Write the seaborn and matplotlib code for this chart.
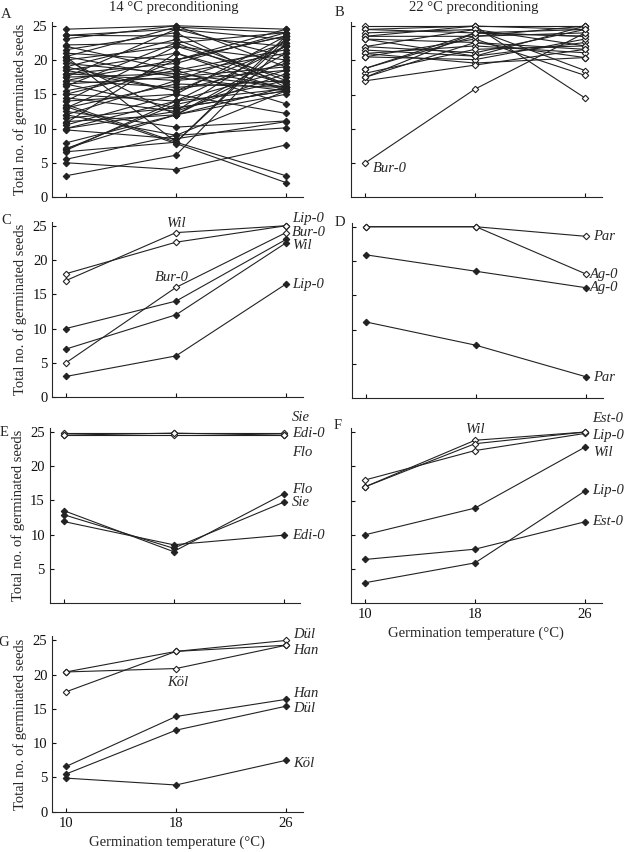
import matplotlib
matplotlib.use("Agg")
import matplotlib.pyplot as plt
import seaborn as sns
import pandas as pd

temps = [10, 18, 26]

# A: 14 °C preconditioning, all accessions (values at 10, 18, 26 °C)
a_10 = [24.5, 23.6, 23.6, 23.1, 22.2, 21.5, 21.0, 20.5, 20.5, 20.0, 20.0, 19.5, 19.0, 19.0,
        18.5, 18.0, 18.0, 17.5, 17.5, 17.0, 17.0, 16.5, 16.5, 16.2, 15.5, 15.0, 15.0, 14.5,
        14.0, 13.5, 13.2, 13.0, 13.0, 12.5, 12.0, 12.0, 11.5, 11.0, 10.8, 10.5, 10.0, 10.0,
        9.8, 7.9, 7.1, 7.0, 6.8, 6.6, 5.5, 5.0, 3.1, 20.5, 22.0, 18.5, 14.0]
a_18 = [25.0, 24.5, 23.5, 25.0, 22.5, 24.0, 20.0, 8.0, 17.5, 22.0, 12.0, 18.0, 23.0, 15.5,
        21.0, 17.0, 19.5, 18.0, 24.5, 16.0, 20.0, 13.0, 17.5, 22.5, 18.5, 14.0, 19.0, 12.5,
        15.0, 8.0, 7.8, 20.0, 16.5, 10.2, 17.0, 9.0, 13.0, 12.0, 21.0, 15.0, 14.0, 12.5,
        8.5, 12.0, 12.0, 13.5, 14.0, 8.0, 9.0, 4.0, 6.1, 24.8, 18.5, 15.5, 22.0]
a_26 = [24.5, 23.0, 22.0, 19.0, 24.0, 16.0, 23.5, 23.0, 15.5, 20.0, 16.0, 21.0, 17.0, 22.0,
        15.5, 18.5, 24.0, 16.0, 20.5, 17.0, 23.5, 15.5, 19.0, 16.5, 13.6, 22.0, 16.0, 18.0,
        12.2, 3.1, 2.1, 24.5, 16.0, 11.1, 22.5, 10.1, 15.5, 20.0, 16.5, 23.5, 18.5, 23.0,
        11.0, 15.0, 21.0, 17.0, 15.8, 23.5, 15.5, 7.6, 22.5, 24.0, 21.5, 19.5, 17.5]

# B: 22 °C preconditioning, all accessions
b_10 = [25.0, 24.5, 24.5, 24.0, 23.5, 23.5, 23.1, 22.0, 22.0, 21.5, 21.0, 21.0, 20.5, 20.5,
        18.8, 18.1, 17.5, 17.0, 18.8, 5.0, 23.1, 17.5]
b_18 = [25.0, 25.0, 24.0, 24.5, 25.0, 23.5, 22.6, 21.1, 24.5, 20.6, 22.1, 19.6, 20.1, 23.1,
        24.0, 21.6, 22.6, 19.3, 23.5, 15.8, 20.6, 24.0]
b_26 = [25.0, 24.5, 23.5, 22.1, 14.5, 24.0, 21.6, 24.5, 18.5, 22.6, 21.1, 20.4, 23.1, 17.8,
        23.5, 22.1, 20.4, 21.6, 25.0, 24.0, 25.0, 24.5]

# C-G: selected accessions, open = 22 °C, filled = 14 °C preconditioning
c_open = [[17, 24, 25], [18, 22.6, 25], [5, 16, 24]]
c_filled = [[10, 14, 23], [7, 12, 22.5], [3, 6, 16.5]]
d_open = [[25, 25, 23.6], [25, 25, 18.1]]
d_filled = [[20.9, 18.5, 16.1], [11.1, 7.7, 3.1]]
e_open = [[24.8, 24.8, 24.8], [24.5, 24.5, 24.5], [24.5, 24.8, 24.5]]
e_filled = [[13.5, 7.5, 15.9], [12.9, 8.0, 14.7], [11.9, 8.5, 9.9]]
f_open = [[17, 23.8, 25], [18, 22.3, 24.8], [17, 23.3, 25]]
f_filled = [[10, 13.9, 22.8], [3, 5.9, 16.4], [6.4, 7.9, 11.9]]
g_open = [[17.5, 23.4, 25], [20.4, 23.4, 24.3], [20.4, 20.9, 24.3]]
g_filled = [[6.6, 13.9, 16.4], [5.5, 11.9, 15.4], [4.9, 3.9, 7.5]]

# accession labels (text, x, y, ha)
b_labels = [("Bur-0", 10.6, 4.2, "left")]
c_labels = [("Wil", 18, 25.4, "center"), ("Bur-0", 17.7, 17.4, "center"),
            ("Lip-0", 26.45, 26.0, "left"), ("Bur-0", 26.45, 24.0, "left"),
            ("Wil", 26.45, 22.1, "left"), ("Lip-0", 26.45, 16.4, "left")]
d_labels = [("Par", 26.5, 23.6, "left"), ("Ag-0", 26.3, 18.1, "left"),
            ("Ag-0", 26.3, 16.1, "left"), ("Par", 26.5, 3.0, "left")]
e_labels = [("Sie", 26.6, 27.1, "left"), ("Edi-0", 26.6, 24.7, "left"),
            ("Flo", 26.6, 22.0, "left"), ("Flo", 26.6, 16.6, "left"),
            ("Sie", 26.6, 14.6, "left"), ("Edi-0", 26.6, 9.9, "left")]
f_labels = [("Wil", 18, 25.4, "center"), ("Est-0", 26.55, 27.0, "left"),
            ("Lip-0", 26.55, 24.5, "left"), ("Wil", 26.55, 22.0, "left"),
            ("Lip-0", 26.55, 16.5, "left"), ("Est-0", 26.55, 11.9, "left")]
g_labels = [("Dül", 26.5, 25.9, "left"), ("Han", 26.5, 23.5, "left"),
            ("Köl", 18.1, 18.9, "center"), ("Han", 26.5, 17.3, "left"),
            ("Dül", 26.5, 15.0, "left"), ("Köl", 26.5, 7.1, "left")]

LINE = "#222222"
W, H = 624, 852

sns.set_style("ticks")
plt.rcParams["font.family"] = ["Liberation Serif", "DejaVu Serif"]
plt.rcParams["font.size"] = 10
plt.rcParams["axes.linewidth"] = 0.8


def long_df(rows):
    recs = []
    for i, vals in enumerate(rows):
        for t, v in zip(temps, vals):
            recs.append({"line": i, "temp": t, "seeds": v})
    return pd.DataFrame(recs)


def draw(ax, rows, open_marker):
    sns.lineplot(data=long_df(rows), x="temp", y="seeds", units="line", estimator=None,
                 ax=ax, color=LINE, lw=0.8, marker="D", ms=3.3,
                 markerfacecolor="white" if open_marker else LINE,
                 markeredgecolor=LINE, markeredgewidth=0.8, legend=False)


def make_ax(tick10_x, bottom_y):
    # place axes in pixel terms: 13.75 px per degree, 6.85 px per seed
    left = tick10_x - 13.75
    width = 18.2 * 13.75
    height = 25.6 * 6.85
    return fig.add_axes([left / W, 1 - bottom_y / H, width / W, height / H])


fig = plt.figure(figsize=(W / 100, H / 100), dpi=100)

axA = make_ax(66, 197)
axB = make_ax(365, 197.3)
axC = make_ax(66, 397)
axD = make_ax(366, 398)
axE = make_ax(63.5, 603)
axF = make_ax(365, 603.3)
axG = make_ax(66, 811.7)

draw(axA, list(zip(a_10, a_18, a_26)), False)
draw(axB, list(zip(b_10, b_18, b_26)), True)
for ax, op, fi in [(axC, c_open, c_filled), (axD, d_open, d_filled), (axE, e_open, e_filled),
                   (axF, f_open, f_filled), (axG, g_open, g_filled)]:
    draw(ax, fi, False)
    draw(ax, op, True)

for ax in [axA, axB, axC, axD, axE, axF, axG]:
    ax.set_xlim(9, 27.2)
    ax.set_ylim(0, 25.6)
    ax.set_xticks(temps)
    ax.set_xlabel("")
    ax.set_ylabel("")
    sns.despine(ax=ax)
    ax.tick_params(direction="in", length=3, width=0.8, labelsize=10.5, colors="#111111")

for ax in [axA, axC, axG]:
    ax.set_yticks([0, 5, 10, 15, 20, 25])
for ax in [axB, axD, axE, axF]:
    ax.set_yticks([5, 10, 15, 20, 25])
for ax in [axB, axD, axF]:
    ax.set_yticklabels([])
for ax in [axA, axB, axC, axD, axE]:
    ax.set_xticklabels([])
for ax in [axA, axC, axE, axG]:
    ax.set_ylabel("Total no. of germinated seeds", fontsize=10.5, labelpad=4)
for ax in [axF, axG]:
    ax.set_xlabel("Germination temperature (°C)", fontsize=10.5, labelpad=4)

for ax, labels in [(axB, b_labels), (axC, c_labels), (axD, d_labels), (axE, e_labels),
                   (axF, f_labels), (axG, g_labels)]:
    for txt, x, y, ha in labels:
        ax.text(x, y, txt, ha=ha, va="center", fontsize=10.5, fontstyle="italic",
                clip_on=False)

for letter, x, y in [("A", 6, 14), ("B", 339, 12), ("C", 6, 220), ("D", 340, 223),
                     ("E", 4, 433), ("F", 338, 425), ("G", 4, 642)]:
    fig.text(x / W, 1 - y / H, letter, ha="center", va="center", fontsize=10.5)

fig.text(174 / W, 1 - 7 / H, "14 °C preconditioning", ha="center", va="center", fontsize=10.5)
fig.text(474 / W, 1 - 7 / H, "22 °C preconditioning", ha="center", va="center", fontsize=10.5)

fig.savefig("out.png", dpi=100, facecolor="white")
